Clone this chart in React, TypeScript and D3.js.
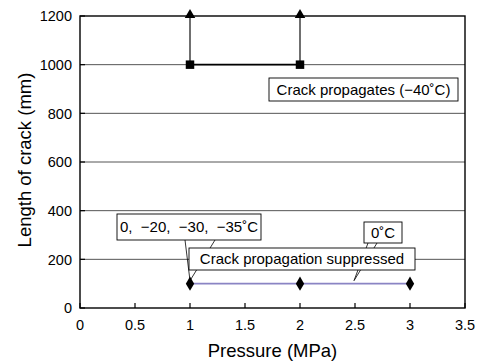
import React from "react";
import * as d3 from "d3";

const xTicks = [0, 0.5, 1, 1.5, 2, 2.5, 3, 3.5];
const yTicks = [0, 200, 400, 600, 800, 1000, 1200];
const propPressure = [1, 2];
const propLength = [1000, 1000];
const propArrowTop = 1200;
const suppPressure = [1, 2, 3];
const suppLength = [100, 100, 100];

const W = 478;
const H = 363;
const margin = { top: 16, right: 13, bottom: 55, left: 80 };
const FONT = "'Liberation Sans', Arial, Helvetica, sans-serif";

const App = () => {
  const x = d3.scaleLinear().domain([0, 3.5]).range([margin.left, W - margin.right]);
  const y = d3.scaleLinear().domain([0, 1200]).range([H - margin.bottom, margin.top]);
  const line = d3.line<[number, number]>().x(d => x(d[0])).y(d => y(d[1]));
  const tri = d3.symbol().type(d3.symbolTriangle).size(48)();
  const sq = d3.symbol().type(d3.symbolSquare).size(72)();
  const dia = d3.symbol().type(d3.symbolDiamond).size(60)();

  const x0 = x(0), x1 = x(3.5), yb = y(0), yt = y(1200);

  // callout: box + wedge
  const callout = (bx: number, by: number, bw: number, bh: number, text: string, wedge?: [number, number, number, number], fs = 15) => (
    <g>
      {wedge && (
        <path
          d={`M${wedge[0]},${by + bh} L${wedge[2]},${wedge[3]} L${wedge[1]},${by + bh}`}
          fill="none" stroke="#000" strokeWidth={0.8} />
      )}
      <rect x={bx} y={by} width={bw} height={bh} fill="#fff" stroke="#000" strokeWidth={0.9} />
      <text x={bx + bw / 2} y={by + bh / 2} dy="0.36em" textAnchor="middle" fontSize={fs} style={{ whiteSpace: "pre" }}>{text}</text>
    </g>
  );

  return (
    <svg width={W} height={H} style={{ position: "absolute", left: 0, top: 0, background: "#fff" }} fontFamily={FONT}>
      {/* gridlines */}
      {yTicks.filter(t => t > 0 && t < 1200).map(t => (
        <line key={t} x1={x0} x2={x1} y1={y(t)} y2={y(t)} stroke="#555" strokeWidth={1} />
      ))}
      {/* ticks inward */}
      {yTicks.map(t => (
        <line key={"yt" + t} x1={x0} x2={x0 + 5} y1={y(t)} y2={y(t)} stroke="#000" strokeWidth={1.2} />
      ))}
      {xTicks.map(t => (
        <line key={"xt" + t} x1={x(t)} x2={x(t)} y1={yb} y2={yb - 5} stroke="#000" strokeWidth={1.2} />
      ))}
      {/* frame */}
      <rect x={x0} y={yt} width={x1 - x0} height={yb - yt} fill="none" stroke="#000" strokeWidth={1.4} />
      {/* tick labels */}
      {yTicks.map(t => (
        <text key={"yl" + t} x={x0 - 8} y={y(t)} dy="0.36em" textAnchor="end" fontSize={14.5}>{t}</text>
      ))}
      {xTicks.map(t => (
        <text key={"xl" + t} x={x(t)} y={yb + 17} dy="0.36em" textAnchor="middle" fontSize={14.5}>{t}</text>
      ))}
      {/* axis titles */}
      <text x={(x0 + x1) / 2} y={357} textAnchor="middle" fontSize={18.5}>Pressure (MPa)</text>
      <text transform={`translate(31,160) rotate(-90)`} textAnchor="middle" fontSize={18.5}>Length of crack (mm)</text>

      {/* -40 C series */}
      {propPressure.map((p, i) => (
        <line key={"v" + i} x1={x(p)} x2={x(p)} y1={y(propLength[i])} y2={y(propArrowTop) + 2} stroke="#222" strokeWidth={1.3} />
      ))}
      <path d={line(propPressure.map((p, i) => [p, propLength[i]]) as [number, number][]) || ""} fill="none" stroke="#000" strokeWidth={1.6} />
      {propPressure.map((p, i) => (
        <path key={"sq" + i} d={sq || ""} transform={`translate(${x(p)},${y(propLength[i])})`} fill="#000" />
      ))}
      {propPressure.map((p, i) => (
        <path key={"tr" + i} d={tri || ""} transform={`translate(${x(p)},${y(propArrowTop) - 1})`} fill="#000" />
      ))}

      {/* suppressed series */}
      <path d={line(suppPressure.map((p, i) => [p, suppLength[i]]) as [number, number][]) || ""} fill="none" stroke="#8a84c4" strokeWidth={1.6} />
      {suppPressure.map((p, i) => (
        <path key={"di" + i} d={dia || ""} transform={`translate(${x(p)},${y(suppLength[i])})`} fill="#000" />
      ))}

      {/* callouts */}
      {callout(269, 78, 189, 23, "Crack propagates (−40˚C)")}
      {callout(117, 214, 144, 26, "0,  −20,  −30,  −35˚C", [185, 215, x(1), y(100) - 3])}
      {callout(364, 222, 38, 21, "0˚C", [368, 377, x(2.5) - 1, y(100) - 3])}
      {callout(189, 248, 226, 22, "Crack propagation suppressed")}
    </svg>
  );
};

export default App;
